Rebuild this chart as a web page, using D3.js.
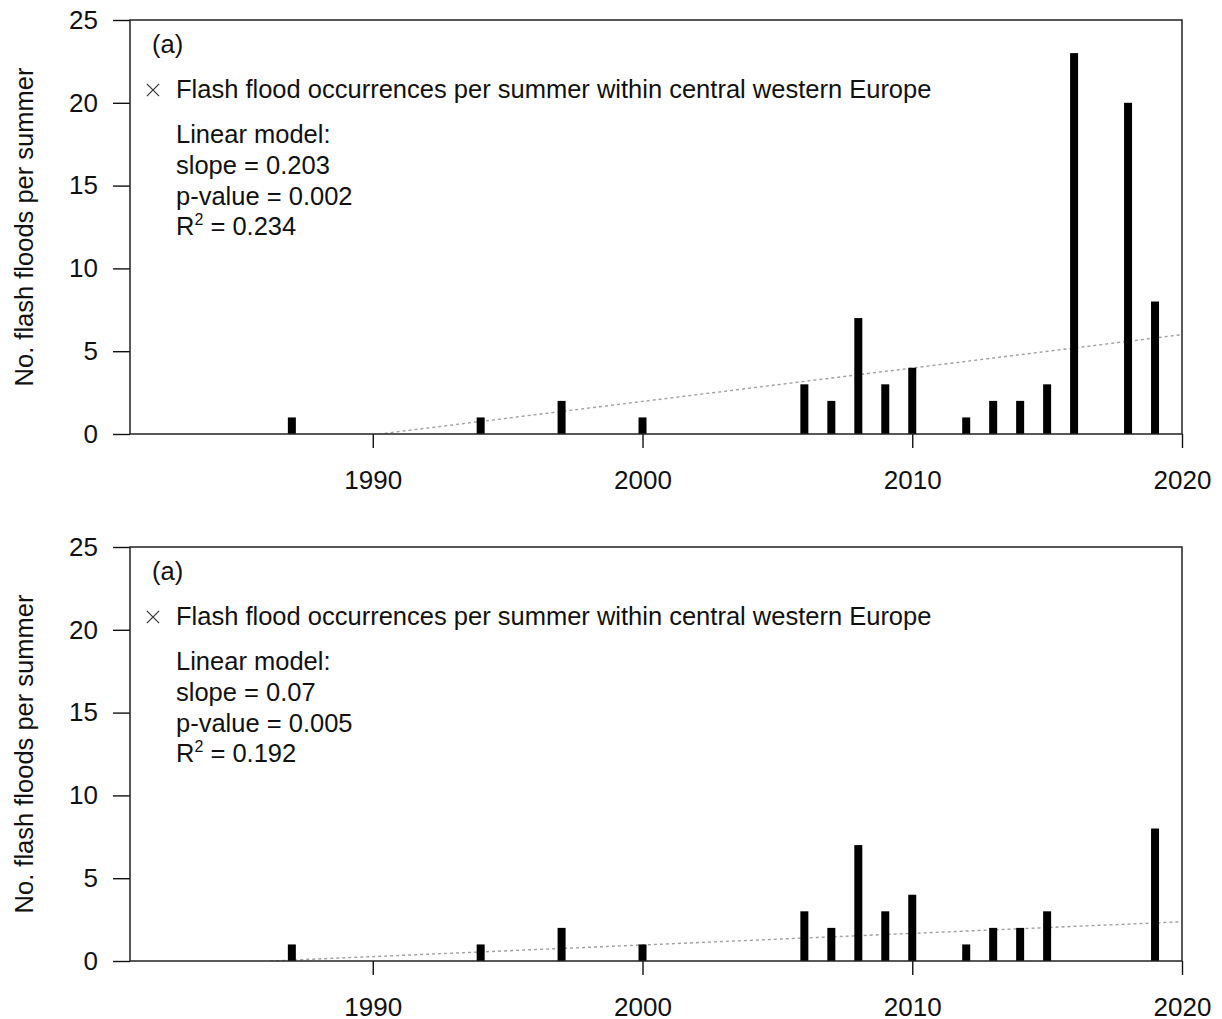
<!DOCTYPE html>
<html>
<head>
<meta charset="utf-8">
<script src="https://cdn.jsdelivr.net/npm/d3@7"></script>
<style>
  body { margin: 0; background: #fff; }
  svg text { font-family: Arial, "Liberation Sans", sans-serif; fill: #111; }
</style>
</head>
<body>
<div id="chart"></div>
<script>
// Flash flood counts per summer
const yearsAll = [1987, 1994, 1997, 2000, 2006, 2007, 2008, 2009, 2010, 2012, 2013, 2014, 2015, 2016, 2018, 2019];
const countsAll = [1, 1, 2, 1, 3, 2, 7, 3, 4, 1, 2, 2, 3, 23, 20, 8];
const yearsSub = [1987, 1994, 1997, 2000, 2006, 2007, 2008, 2009, 2010, 2012, 2013, 2014, 2015, 2019];
const countsSub = [1, 1, 2, 1, 3, 2, 7, 3, 4, 1, 2, 2, 3, 8];

// fitted trend line end points
const trendYearsAll = [1990, 2020];
const trendValuesAll = [-0.05, 6.0];
const trendYearsSub = [1986.2, 2020];
const trendValuesSub = [0, 2.37];

const xTicks = [1990, 2000, 2010, 2020];
const yTicks = [0, 5, 10, 15, 20, 25];
const panelLabel = "(a)";
const legendLabel = "Flash flood occurrences per summer within central western Europe";
const statsAll = ["0.203", "0.002", "0.234"];
const statsSub = ["0.07", "0.005", "0.192"];
const yTitle = "No. flash floods per summer";

const W = 1222, H = 1019;
const left = 130, right = 1182, panelH = 414;
const fs = 25.5, tickFs = 26;

const svg = d3.select("#chart").append("svg")
    .attr("width", W)
    .attr("height", H);

const x = d3.scaleLinear().domain([1981, 2020]).range([left, right]);

function drawPanel(top, years, counts, trendYears, trendValues, stats) {
    const g = svg.append("g").attr("transform", `translate(0, ${top})`);
    const y = d3.scaleLinear().domain([0, 25]).range([panelH, 0]);

    const clipId = "clip" + top;
    g.append("clipPath").attr("id", clipId)
        .append("rect")
        .attr("x", left).attr("y", 0)
        .attr("width", right - left).attr("height", panelH);

    // trend line (dotted grey)
    g.append("path")
        .datum(trendYears.map((yr, i) => [yr, trendValues[i]]))
        .attr("clip-path", `url(#${clipId})`)
        .attr("d", d3.line().x(d => x(d[0])).y(d => y(d[1])))
        .attr("fill", "none")
        .attr("stroke", "#a0a0a0")
        .attr("stroke-width", 1.4)
        .attr("stroke-dasharray", "3,3");

    // bars
    g.selectAll(".bar")
        .data(years.map((yr, i) => ({ yr, n: counts[i] })))
        .enter().append("rect")
        .attr("class", "bar")
        .attr("x", d => x(d.yr) - 4)
        .attr("width", 8)
        .attr("y", d => y(d.n))
        .attr("height", d => y(0) - y(d.n))
        .attr("fill", "#000");

    // axes
    const xAxis = g.append("g")
        .attr("transform", `translate(0, ${panelH})`)
        .call(d3.axisBottom(x).tickValues(xTicks).tickFormat(d3.format("d"))
            .tickSize(14).tickSizeOuter(0).tickPadding(23));
    const yAxis = g.append("g")
        .attr("transform", `translate(${left}, 0)`)
        .call(d3.axisLeft(y).tickValues(yTicks).tickSize(17).tickSizeOuter(0).tickPadding(15));

    [xAxis, yAxis].forEach(a => {
        a.select(".domain").remove();
        a.selectAll(".tick line").attr("stroke", "#111").attr("stroke-width", 1.4);
        a.selectAll(".tick text")
            .attr("font-size", tickFs)
            .attr("font-family", "Arial, 'Liberation Sans', sans-serif")
            .attr("fill", "#111");
    });

    // plot box
    g.append("rect")
        .attr("x", left).attr("y", 0)
        .attr("width", right - left).attr("height", panelH)
        .attr("fill", "none")
        .attr("stroke", "#222")
        .attr("stroke-width", 1.5);

    // y title
    g.append("text")
        .attr("transform", `translate(33, ${panelH / 2}) rotate(-90)`)
        .attr("text-anchor", "middle")
        .attr("font-size", fs)
        .text(yTitle);

    // annotations
    g.append("text").attr("x", 152).attr("y", 33).attr("font-size", fs).text(panelLabel);

    g.append("path")
        .attr("transform", "translate(153, 70)")
        .attr("d", d3.symbol(d3.symbolX, 100)())
        .attr("fill", "none")
        .attr("stroke", "#333")
        .attr("stroke-width", 1.2);
    g.append("text").attr("x", 176).attr("y", 78).attr("font-size", fs).text(legendLabel);

    const lx = 176, ly = 123, step = 31;
    g.append("text").attr("x", lx).attr("y", ly).attr("font-size", fs).text("Linear model:");
    g.append("text").attr("x", lx).attr("y", ly + step).attr("font-size", fs).text("slope = " + stats[0]);
    g.append("text").attr("x", lx).attr("y", ly + step * 2).attr("font-size", fs).text("p-value = " + stats[1]);
    const r2 = g.append("text").attr("x", lx).attr("y", ly + step * 3 - 1).attr("font-size", fs);
    r2.append("tspan").text("R");
    r2.append("tspan").attr("font-size", 16).attr("dy", -10).text("2");
    r2.append("tspan").attr("dy", 10).text(" = " + stats[2]);
}

drawPanel(20, yearsAll, countsAll, trendYearsAll, trendValuesAll, statsAll);
drawPanel(547, yearsSub, countsSub, trendYearsSub, trendValuesSub, statsSub);
</script>
</body>
</html>
